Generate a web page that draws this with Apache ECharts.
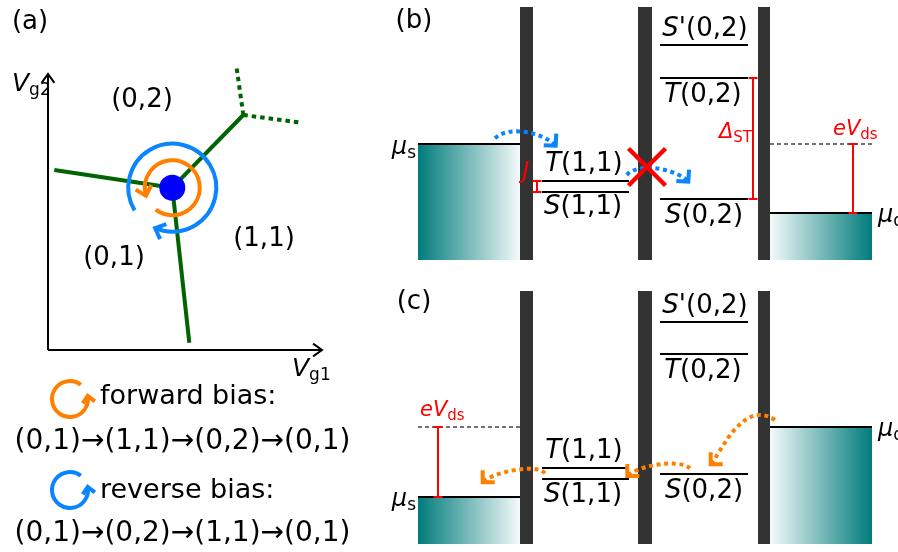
<!DOCTYPE html>
<html>
<head>
<meta charset="utf-8">
<script src="https://cdn.jsdelivr.net/npm/echarts@6/dist/echarts.min.js"></script>
<style>
html, body { margin: 0; padding: 0; background: #fff; }
#chart { width: 898px; height: 552px; }
</style>
</head>
<body>
<div id="chart"></div>
<script>
const FAMILY = '"DejaVu Sans", sans-serif';

// ---------- Panel (a): charge stability diagram (gate voltages, arbitrary units) ----------
const gateAxes = [[0, 0, 27.4, 0], [0, 0, 0, 27.6]];
const boundarySolid = [[0.63, 18.0, 12.43, 16.23], [12.43, 16.23, 14.13, 0.73], [12.43, 16.23, 19.53, 23.5]];
const boundaryDotted = [[19.53, 23.5, 18.87, 28.17], [19.53, 23.5, 25.37, 22.73]];
const triplePoint = [[12.43, 16.23]];
const chargeStates = ['(0,2)', '(1,1)', '(0,1)'];
const chargeStatePos = [[9.4, 25.0], [21.6, 11.1], [6.6, 9.2]];
const gateNames = ['{v|V}{vs|g2}', '{v|V}{vs|g1}'];
const gateNamePos = [[-3.6, 26.6], [24.4, -1.9]];
// cycles round the triple point: [cx, cy, r, startDeg, endDeg]; end > start runs counter-clockwise
const forwardCycle = [[12.43, 16.23, 2.75, 233, 557]];
const reverseCycle = [[12.43, 16.23, 4.4, 211, -113]];
const forwardIcon = [[2.2, -4.9, 1.8, 53, 370]];
const reverseIcon = [[2.2, -14.0, 1.8, 53, 370]];
const biasNames = ['forward bias:', 'reverse bias:'];
const biasNamePos = [[5.2, -4.7], [5.2, -14.05]];
const biasPaths = ['(0,1)→(1,1)→(0,2)→(0,1)', '(0,1)→(0,2)→(1,1)→(0,1)'];
const biasPathPos = [[13.45, -9.15], [13.45, -18.4]];

// ---------- Panels (b), (c): energy diagrams (position, energy in arbitrary units) ----------
const barrierX = [[13.0, 14.3], [24.8, 26.2], [36.8, 38.0]];
const barrierTop = 25.3;
const sourceX = [2.8, 13.0];
const drainX = [38.0, 48.2];
const dotLeftX = [15.2, 23.9];   // (1,1) levels
const dotRightX = [27.0, 35.8];  // (0,2) levels
const levelNames = ['{i|T}{n|(1,1)}', '{i|S}{n|(1,1)}', "{i|S}{n|'(0,2)}", '{i|T}{n|(0,2)}', '{i|S}{n|(0,2)}'];
const muNames = ['{m|μ}{ms|s}', '{m|μ}{ms|d}'];

// (b) reverse bias: Pauli blockade
const muB = [11.6, 4.7];                 // mu_s, mu_d
const levels11B = [7.9, 6.8];            // T(1,1), S(1,1)
const levels02B = [21.5, 18.2, 6.1];     // S'(0,2), T(0,2), S(0,2)
const levelNamePosB = [[19.4, 9.6], [19.3, 5.3], [31.5, 23.1], [31.3, 16.5], [31.4, 4.4]];
const muNamePosB = [[2.6, 11.2], [48.8, 4.4]];
const panelNamePosB = [[2.4, 23.9]];
const gapBarsB = [[14.7, 6.8, 7.9], [36.3, 6.1, 18.2], [46.3, 4.7, 11.6]];
const gapNamesB = ['{it|J}', '{it|Δ}{sb|ST}', '{it|eV}{sb|ds}'];
const gapNamePosB = [[13.6, 8.8], [36.2, 12.75], [44.3, 13.0]];
const biasLevelB = [[38.0, 11.6, 48.2, 11.6]];
const hopsB = [[10.5, 12.17, 12.0, 13.6, 15.5, 12.6, 16.57, 11.43],
               [23.67, 8.5, 25.0, 9.9, 28.8, 9.0, 29.83, 7.83]];
const blockedB = [[25.7, 9.3, 1.85]];

// (c) forward bias: current flows
const muC = [4.7, 11.7];
const levels11C = [7.6, 6.5];
const levels02C = [22.2, 19.0, 7.0];
const levelNamePosC = [[19.4, 9.3], [19.3, 4.9], [31.5, 23.8], [31.3, 17.3], [31.4, 5.25]];
const muNamePosC = [[2.6, 4.4], [48.8, 11.4]];
const panelNamePosC = [[2.4, 24.2]];
const gapBarsC = [[4.8, 4.7, 11.7]];
const gapNamesC = ['{it|eV}{sb|ds}'];
const gapNamePosC = [[3.0, 13.35]];
const biasLevelC = [[2.8, 11.7, 13.0, 11.7]];
const hopsC = [[38.5, 12.4, 35.2, 14.6, 33.0, 8.9, 32.07, 7.97],
               [30.0, 7.57, 28.8, 8.6, 24.73, 7.8, 23.73, 6.8],
               [15.5, 7.07, 14.6, 8.1, 10.27, 7.17, 9.27, 6.17]];

// ---------- drawing helpers ----------
const font = (size, style) => (style ? style + ' ' : '') + size + 'px ' + FAMILY;
function tok(size, style, extra) {
  return Object.assign({ fontSize: size, fontStyle: style || 'normal', fontFamily: FAMILY }, extra || {});
}

function arrowHead(tip, dir, len, ang) {
  const n = Math.hypot(dir[0], dir[1]) || 1;
  const bx = -dir[0] / n, by = -dir[1] / n;
  const leg = a => [tip[0] + len * (bx * Math.cos(a) - by * Math.sin(a)),
                    tip[1] + len * (bx * Math.sin(a) + by * Math.cos(a))];
  return [leg(ang), tip, leg(-ang)];
}

function series(gi, data, renderItem) {
  return { type: 'custom', xAxisIndex: gi, yAxisIndex: gi, data: data, renderItem: renderItem,
           clip: false, silent: true, animation: false };
}

function segments(gi, data, style) {
  return series(gi, data, function (params, api) {
    const a = api.coord([api.value(0), api.value(1)]);
    const b = api.coord([api.value(2), api.value(3)]);
    return { type: 'line', shape: { x1: a[0], y1: a[1], x2: b[0], y2: b[1] },
             style: Object.assign({ fill: 'none' }, style) };
  });
}

function axisArrows(gi, data, style) {
  return series(gi, data, function (params, api) {
    const a = api.coord([api.value(0), api.value(1)]);
    const b = api.coord([api.value(2), api.value(3)]);
    return { type: 'group', children: [
      { type: 'line', shape: { x1: a[0], y1: a[1], x2: b[0], y2: b[1] }, style: Object.assign({ fill: 'none' }, style) },
      { type: 'polyline', shape: { points: arrowHead(b, [b[0] - a[0], b[1] - a[1]], 11, 0.62) },
        style: Object.assign({ fill: 'none' }, style) }
    ] };
  });
}

function rects(gi, data, fill) {
  return series(gi, data, function (params, api) {
    const a = api.coord([api.value(0), api.value(1)]);
    const b = api.coord([api.value(2), api.value(3)]);
    return { type: 'rect',
             shape: { x: Math.min(a[0], b[0]), y: Math.min(a[1], b[1]),
                      width: Math.abs(b[0] - a[0]), height: Math.abs(b[1] - a[1]) },
             style: { fill: fill } };
  });
}

function texts(gi, pos, labels, style) {
  return series(gi, pos, function (params, api) {
    const p = api.coord([api.value(0), api.value(1)]);
    return { type: 'text', x: p[0], y: p[1],
             style: Object.assign({ text: labels[params.dataIndex], verticalAlign: 'middle' }, style) };
  });
}

function cycleArrows(gi, data, color, width, headLen) {
  return series(gi, data, function (params, api) {
    const c = api.coord([api.value(0), api.value(1)]);
    const r = api.size([api.value(2), 0])[0];
    const a0 = api.value(3), a1 = api.value(4);
    const ccw = a1 > a0;
    const rad = Math.PI / 180;
    const pt = d => [c[0] + r * Math.cos(d * rad), c[1] - r * Math.sin(d * rad)];
    const tip = pt(a1);
    const prev = pt(a1 + (ccw ? -1 : 1));
    const st = { stroke: color, lineWidth: width, fill: 'none' };
    return { type: 'group', children: [
      { type: 'arc', shape: { cx: c[0], cy: c[1], r: r, startAngle: -a0 * rad, endAngle: -a1 * rad, clockwise: !ccw }, style: st },
      { type: 'polyline', shape: { points: arrowHead(tip, [tip[0] - prev[0], tip[1] - prev[1]], headLen, 0.75) }, style: st }
    ] };
  });
}

function hops(gi, data, color) {
  return series(gi, data, function (params, api) {
    const p = [0, 1, 2, 3].map(k => api.coord([api.value(2 * k), api.value(2 * k + 1)]));
    return { type: 'group', children: [
      { type: 'bezierCurve',
        shape: { x1: p[0][0], y1: p[0][1], cpx1: p[1][0], cpy1: p[1][1], cpx2: p[2][0], cpy2: p[2][1], x2: p[3][0], y2: p[3][1] },
        style: { stroke: color, lineWidth: 4, lineDash: [4, 3.6], fill: 'none' } },
      { type: 'polyline', shape: { points: arrowHead(p[3], [p[3][0] - p[2][0], p[3][1] - p[2][1]], 12, Math.PI / 4) },
        style: { stroke: color, lineWidth: 4, fill: 'none', lineJoin: 'miter' } }
    ] };
  });
}

function gapBars(gi, data) {
  return series(gi, data, function (params, api) {
    const a = api.coord([api.value(0), api.value(1)]);
    const b = api.coord([api.value(0), api.value(2)]);
    const st = { stroke: '#ff0000', lineWidth: 2, fill: 'none' };
    return { type: 'group', children: [
      { type: 'line', shape: { x1: a[0], y1: a[1], x2: b[0], y2: b[1] }, style: st },
      { type: 'line', shape: { x1: a[0] - 4.5, y1: a[1], x2: a[0] + 4.5, y2: a[1] }, style: st },
      { type: 'line', shape: { x1: b[0] - 4.5, y1: b[1], x2: b[0] + 4.5, y2: b[1] }, style: st }
    ] };
  });
}

function crosses(gi, data) {
  return series(gi, data, function (params, api) {
    const h = api.value(2);
    const a = api.coord([api.value(0) - h, api.value(1) + h]);
    const b = api.coord([api.value(0) + h, api.value(1) - h]);
    const st = { stroke: '#ff0000', lineWidth: 4.5, fill: 'none' };
    return { type: 'group', children: [
      { type: 'line', shape: { x1: a[0], y1: a[1], x2: b[0], y2: b[1] }, style: st },
      { type: 'line', shape: { x1: a[0], y1: b[1], x2: b[0], y2: a[1] }, style: st }
    ] };
  });
}

const teal = '#007b7b';
const sourceFill = new echarts.graphic.LinearGradient(0, 0, 1, 0, [{ offset: 0, color: teal }, { offset: 1, color: '#f4fafa' }]);
const drainFill = new echarts.graphic.LinearGradient(0, 0, 1, 0, [{ offset: 0, color: '#f4fafa' }, { offset: 1, color: teal }]);

const levelRich = { i: tok(26, 'italic'), n: tok(26) };
const muRich = { m: tok(24, 'italic'), ms: tok(17, 'normal', { padding: [12, 0, 0, 0] }) };
const redRich = { it: tok(21, 'italic', { fill: '#ff0000' }), sb: tok(15, 'normal', { fill: '#ff0000', padding: [11, 0, 0, 0] }),
                  big: tok(23, 'italic', { fill: '#ff0000' }) };

function energyPanel(gi, p) {
  const levelSegs = p.l11.map(y => [dotLeftX[0], y, dotLeftX[1], y])
    .concat(p.l02.map(y => [dotRightX[0], y, dotRightX[1], y]));
  const out = [
    rects(gi, [[sourceX[0], 0, sourceX[1], p.mu[0]]], sourceFill),
    rects(gi, [[drainX[0], 0, drainX[1], p.mu[1]]], drainFill),
    segments(gi, [[sourceX[0], p.mu[0], sourceX[1], p.mu[0]], [drainX[0], p.mu[1], drainX[1], p.mu[1]]],
      { stroke: '#000', lineWidth: 2 }),
    rects(gi, barrierX.map(b => [b[0], 0, b[1], barrierTop]), '#333333'),
    segments(gi, levelSegs, { stroke: '#000', lineWidth: 2 }),
    segments(gi, p.bias, { stroke: '#444', lineWidth: 1.3, lineDash: [4, 3] }),
    texts(gi, p.levelPos, levelNames, { font: font(26), fill: '#000', align: 'center', rich: levelRich }),
    texts(gi, [p.muPos[0]], [muNames[0]], { font: font(24), fill: '#000', align: 'right', rich: muRich }),
    texts(gi, [p.muPos[1]], [muNames[1]], { font: font(24), fill: '#000', align: 'left', rich: muRich }),
    texts(gi, p.panelPos, [p.panelName], { font: font(26), fill: '#000', align: 'center' }),
    gapBars(gi, p.bars)
  ];
  p.gapNames.forEach(function (name, k) {
    out.push(texts(gi, [p.gapPos[k]], [name], { font: font(21), fill: '#ff0000', align: p.gapAlign[k], rich: redRich }));
  });
  return out;
}

const seriesList = [
  // panel (a)
  segments(0, boundarySolid, { stroke: '#006400', lineWidth: 4 }),
  segments(0, boundaryDotted, { stroke: '#006400', lineWidth: 4, lineDash: [4.5, 4] }),
  axisArrows(0, gateAxes, { stroke: '#000', lineWidth: 2 }),
  cycleArrows(0, forwardCycle, '#ff8000', 4, 12),
  cycleArrows(0, reverseCycle, '#0a84ff', 4, 12),
  { type: 'scatter', xAxisIndex: 0, yAxisIndex: 0, data: triplePoint, symbolSize: 26,
    itemStyle: { color: '#0000ff', opacity: 1 }, silent: true, animation: false, z: 3 },
  cycleArrows(0, forwardIcon, '#ff8000', 4, 9),
  cycleArrows(0, reverseIcon, '#0a84ff', 4, 9),
  texts(0, chargeStatePos, chargeStates, { font: font(26), fill: '#000', align: 'center' }),
  texts(0, [[-1.8, 32.8]], ['(a)'], { font: font(26), fill: '#000', align: 'center' }),
  texts(0, gateNamePos, gateNames, { font: font(25), fill: '#000', align: 'left',
    rich: { v: tok(25, 'italic'), vs: tok(17, 'normal', { padding: [14, 0, 0, 0] }) } }),
  texts(0, biasNamePos, biasNames, { font: font(27), fill: '#000', align: 'left' }),
  texts(0, biasPathPos, biasPaths, { font: font(28), fill: '#000', align: 'center' })
].concat(
  energyPanel(1, { mu: muB, l11: levels11B, l02: levels02B, bias: biasLevelB, levelPos: levelNamePosB,
    muPos: muNamePosB, panelPos: panelNamePosB, panelName: '(b)', bars: gapBarsB,
    gapNames: gapNamesB.map((t, k) => k === 0 ? '{big|J}' : t), gapPos: gapNamePosB, gapAlign: ['center', 'right', 'left'] }),
  [hops(1, hopsB, '#0a84ff'), crosses(1, blockedB)],
  energyPanel(2, { mu: muC, l11: levels11C, l02: levels02C, bias: biasLevelC, levelPos: levelNamePosC,
    muPos: muNamePosC, panelPos: panelNamePosC, panelName: '(c)', bars: gapBarsC,
    gapNames: gapNamesC, gapPos: gapNamePosC, gapAlign: ['left'] }),
  [hops(2, hopsC, '#ff8000')]
);

const chart = echarts.init(document.getElementById('chart'), null, { renderer: 'canvas' });
chart.setOption({
  animation: false,
  backgroundColor: '#ffffff',
  grid: [
    { left: 0, top: 0, width: 360, height: 552 },
    { left: 390, top: 0, width: 508, height: 260 },
    { left: 390, top: 284, width: 508, height: 260 }
  ],
  xAxis: [
    { gridIndex: 0, type: 'value', min: -4.8, max: 31.2, show: false },
    { gridIndex: 1, type: 'value', min: 0, max: 50.8, show: false },
    { gridIndex: 2, type: 'value', min: 0, max: 50.8, show: false }
  ],
  yAxis: [
    { gridIndex: 0, type: 'value', min: -20.2, max: 35, show: false },
    { gridIndex: 1, type: 'value', min: 0, max: 26, show: false },
    { gridIndex: 2, type: 'value', min: 0, max: 26, show: false }
  ],
  series: seriesList
});
</script>
</body>
</html>
